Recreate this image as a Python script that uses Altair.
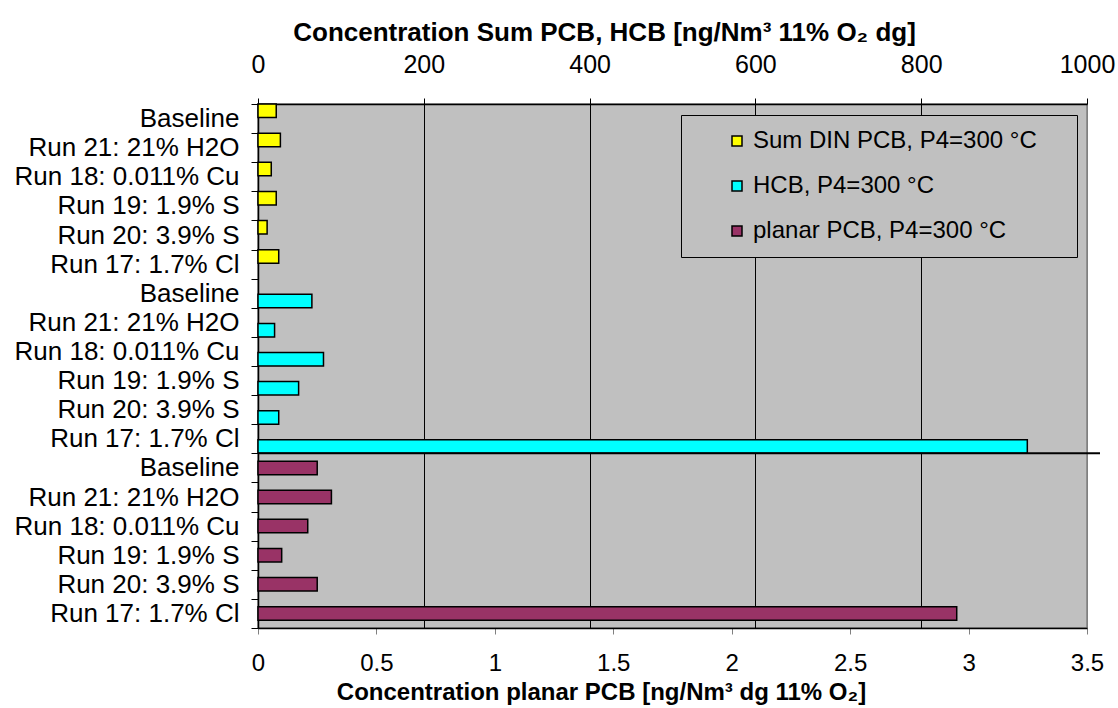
import altair as alt
import pandas as pd

# Experimental conditions, listed top to bottom within each group
conditions = [
    "Baseline",
    "Run 21: 21% H2O",
    "Run 18: 0.011% Cu",
    "Run 19: 1.9% S",
    "Run 20: 3.9% S",
    "Run 17: 1.7% Cl",
]

series_names = [
    "Sum DIN PCB, P4=300 °C",
    "HCB, P4=300 °C",
    "planar PCB, P4=300 °C",
]
series_colors = ["#FFFF00", "#00FFFF", "#993366"]

# Sum DIN PCB and HCB [ng/Nm3 11% O2 dg] (top axis)
sum_din_pcb = [22, 27, 16, 22, 11, 25]
hcb = [65, 20, 79, 49, 25, 928]
# planar PCB [ng/Nm3 dg 11% O2] (bottom axis)
planar_pcb = [0.25, 0.31, 0.21, 0.10, 0.25, 2.95]

top_ticks = [0, 200, 400, 600, 800, 1000]
bottom_ticks = [0, 0.5, 1, 1.5, 2, 2.5, 3, 3.5]


def group_frame(name, values):
    return pd.DataFrame({
        "key": [f"{name}|{c}" for c in conditions],
        "series": name,
        "value": values,
    })


df_pcb = group_frame(series_names[0], sum_din_pcb)
df_hcb = group_frame(series_names[1], hcb)
df_planar = group_frame(series_names[2], planar_pcb)
row_order = list(df_pcb["key"]) + list(df_hcb["key"]) + list(df_planar["key"])

FONT = "Liberation Sans"
BG = "#C0C0C0"

y_enc = alt.Y(
    "key:N",
    sort=row_order,
    scale=alt.Scale(domain=row_order, paddingInner=0, paddingOuter=0),
    axis=alt.Axis(
        title=None,
        labelExpr="split(datum.label, '|')[1]",
        labelFont=FONT,
        labelFontSize=26,
        labelColor="black",
        labelPadding=12,
        labelBaseline="middle",
        tickBand="extent",
        tickSize=7,
        tickColor="black",
        domainColor="black",
        domainWidth=1.5,
        labelLimit=400,
    ),
)

color_enc = alt.Color(
    "series:N",
    scale=alt.Scale(domain=series_names, range=series_colors),
    legend=alt.Legend(
        title="\u00a0",
        titleOrient="right",
        titlePadding=26,
        titleFontSize=10,
        orient="none",
        legendX=423,
        legendY=11,
        fillColor=BG,
        strokeColor="black",
        padding=14,
        symbolOffset=30,
        symbolType="square",
        symbolSize=100,
        symbolStrokeColor="black",
        symbolStrokeWidth=1.5,
        labelFont=FONT,
        labelFontSize=24,
        labelColor="black",
        labelOffset=4,
        rowPadding=21,
        labelLimit=600,
    ),
)

x_top = alt.X(
    "value:Q",
    scale=alt.Scale(domain=[0, 1000], nice=False, zero=True),
    axis=alt.Axis(
        orient="top",
        values=top_ticks,
        format="d",
        title="Concentration Sum PCB, HCB [ng/Nm³ 11% O₂ dg]",
        titleFont=FONT,
        titleFontSize=26,
        titleFontWeight="bold",
        titleColor="black",
        titleX=346,
        titleY=-64,
        titleAlign="center",
        titleBaseline="alphabetic",
        titleAngle=0,
        labelFont=FONT,
        labelFontSize=25,
        labelColor="black",
        labelBaseline="alphabetic",
        labelPadding=26,
        tickSize=6,
        tickColor="black",
        domainColor="black",
        domainWidth=1.5,
        grid=True,
        gridColor={"condition": {"test": "datum.value >= 1000", "value": "#808080"}, "value": "black"},
        gridWidth=1,
        gridOpacity=1,
        labelFlush=False,
    ),
)

x_bottom = alt.X(
    "value:Q",
    scale=alt.Scale(domain=[0, 3.5], nice=False, zero=True),
    axis=alt.Axis(
        orient="bottom",
        values=bottom_ticks,
        format="~g",
        title="Concentration planar PCB [ng/Nm³ dg 11% O₂]",
        titleFont=FONT,
        titleFontSize=24,
        titleFontWeight="bold",
        titleColor="black",
        titleX=343,
        titleY=71,
        titleAlign="center",
        titleBaseline="alphabetic",
        labelFont=FONT,
        labelFontSize=24,
        labelColor="black",
        labelBaseline="alphabetic",
        labelPadding=36,
        tickSize=6,
        tickColor="#808080",
        domainColor="black",
        domainWidth=1.5,
        grid=False,
        labelFlush=False,
    ),
)

bar_style = dict(height=13.5, stroke="black", strokeWidth=1.5)

pcb_bars = alt.Chart(df_pcb).mark_bar(yOffset=-7.7, **bar_style).encode(
    x=x_top, y=y_enc, color=color_enc
)
hcb_bars = alt.Chart(df_hcb).mark_bar(yOffset=7.8, **bar_style).encode(
    x=x_top, y=y_enc, color=color_enc
)
planar_bars = alt.Chart(df_planar).mark_bar(yOffset=0, **bar_style).encode(
    x=x_bottom, y=y_enc, color=color_enc
)

# Separator between the HCB and planar PCB groups, running past the right edge
separator = alt.Chart(df_planar.head(1)).mark_rule(
    color="black", strokeWidth=2
).encode(
    y=alt.Y("key:N", sort=row_order, bandPosition=0),
    x=alt.value(0),
    x2=alt.value(842),
)

chart = (
    alt.layer(
        alt.layer(pcb_bars, hcb_bars),
        planar_bars,
        separator,
    )
    .resolve_scale(x="independent")
    .properties(
        width=829,
        height=524,
        autosize=alt.AutoSizeParams(type="none"),
        padding={"left": 258, "top": 104, "right": 31, "bottom": 80},
        background="white",
    )
    .configure_view(fill=BG, stroke="#808080", strokeWidth=1.5)
)

chart.save("out.html", embed_options={"renderer": "svg", "actions": False})
